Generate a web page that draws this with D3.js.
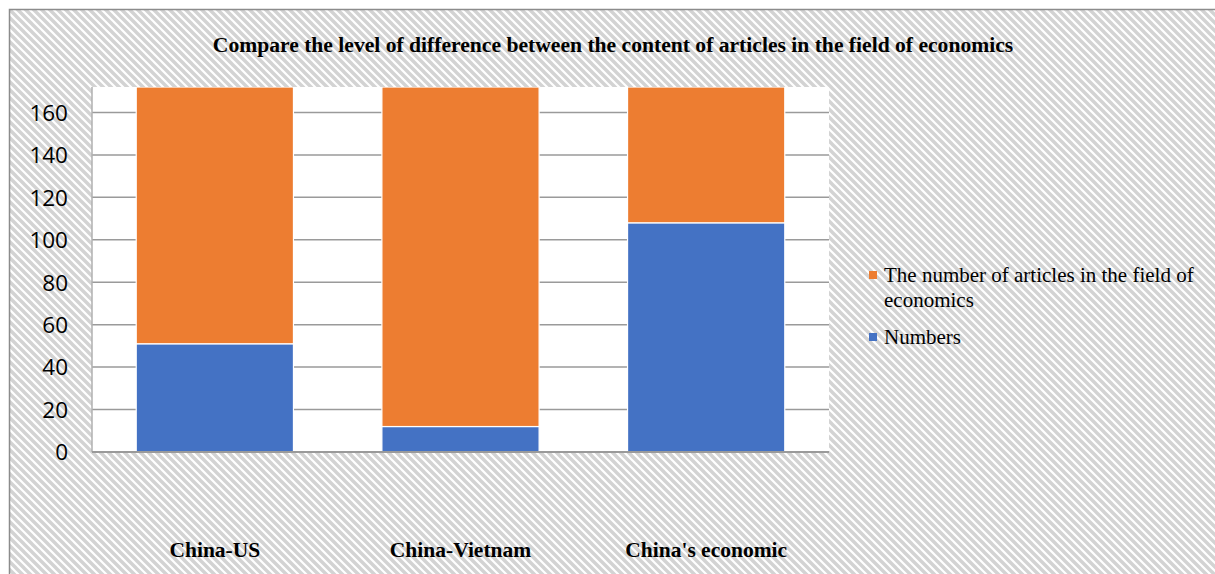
<!DOCTYPE html>
<html><head><meta charset="utf-8">
<script src="https://cdn.jsdelivr.net/npm/d3@7"></script>
<style>body{margin:0;background:#fff}svg{display:block}</style>
</head><body>
<svg id="c" width="1215" height="574"></svg>
<script>
const categories = ["China-US", "China-Vietnam", "China's economic"];
const numbers = [51, 12, 108];
const articles = [121, 160, 64];
const seriesNames = ["Numbers", "The number of articles in the field of economics"];
const yTicks = [0, 20, 40, 60, 80, 100, 120, 140, 160];
const yMax = 172;
const title = "Compare the level of difference between the content of articles in the field of economics";

const svg = d3.select("#c");
const defs = svg.append("defs");
const pat = defs.append("pattern").attr("id","hatch").attr("patternUnits","userSpaceOnUse")
  .attr("width",8).attr("height",8);
pat.append("rect").attr("width",8).attr("height",8).attr("fill","#fff");
pat.append("path").attr("d","M-2,-2 L10,10 M-2,6 L2,10 M6,-2 L10,2").attr("stroke","#d3d3d3").attr("stroke-width",3.4);

svg.append("rect").attr("x",9.5).attr("y",9.5).attr("width",1215).attr("height",600)
  .attr("fill","url(#hatch)").attr("stroke","#8c8c8c").attr("stroke-width",1.5);

const m = {left:92, top:87, right:829, bottom:452};
const x = d3.scaleBand().domain(categories).range([m.left, m.right]).paddingInner(0.36).paddingOuter(0.18);
const y = d3.scaleLinear().domain([0, yMax]).range([m.bottom, m.top]);

svg.append("rect").attr("x",m.left).attr("y",m.top).attr("width",m.right-m.left).attr("height",m.bottom-m.top).attr("fill","#fff");
defs.append("clipPath").attr("id","plot").append("rect").attr("x",m.left).attr("y",m.top).attr("width",m.right-m.left).attr("height",m.bottom-m.top);

// gridlines
svg.append("g").selectAll("line").data(yTicks.filter(d=>d>0)).join("line")
  .attr("x1",m.left).attr("x2",m.right).attr("y1",d=>y(d)).attr("y2",d=>y(d))
  .attr("stroke","#9a9a9a").attr("stroke-width",1.5);

const data = categories.map((c,i)=>({cat:c, Numbers:numbers[i], Articles:articles[i]}));
const stack = d3.stack().keys(["Numbers","Articles"])(data);
const colors = {Numbers:"#4472c4", Articles:"#ed7d31"};
svg.append("g").attr("clip-path","url(#plot)").selectAll("g").data(stack).join("g")
  .attr("fill",d=>colors[d.key])
  .selectAll("rect").data(d=>d).join("rect")
  .attr("x",d=>x(d.data.cat)).attr("width",x.bandwidth())
  .attr("y",d=>y(d[1])).attr("height",d=>y(d[0])-y(d[1]))
  .attr("stroke","#fff").attr("stroke-width",1.2);

// axes lines
svg.append("line").attr("x1",m.left).attr("x2",m.left).attr("y1",m.top).attr("y2",m.bottom).attr("stroke","#b0b0b0").attr("stroke-width",1.5);
svg.append("line").attr("x1",m.left).attr("x2",m.right).attr("y1",m.bottom).attr("y2",m.bottom).attr("stroke","#9a9a9a").attr("stroke-width",2);

const yAxis = d3.axisLeft(y).tickValues(yTicks).tickSize(0).tickPadding(0);
const ya = svg.append("g").attr("transform",`translate(68,0)`).call(yAxis);
ya.select(".domain").remove();
ya.selectAll("text").attr("font-family","'Open Sans', 'Liberation Sans', sans-serif").attr("font-size",22.5).attr("fill","#000").attr("dy","0.35em");

const xAxis = d3.axisBottom(x).tickSize(0).tickPadding(0);
const xa = svg.append("g").attr("transform",`translate(0,549)`).call(xAxis);
xa.select(".domain").remove();
xa.selectAll("text").attr("font-family","'Liberation Serif', serif").attr("font-weight","bold").attr("font-size",21.5).attr("fill","#000").attr("dy","0.35em");

svg.append("text").attr("x",613).attr("y",44).attr("dy","0.35em").attr("text-anchor","middle")
  .attr("font-family","'Liberation Serif', serif").attr("font-weight","bold").attr("font-size",21.6).attr("fill","#000").text(title);

// legend
const lg = svg.append("g").attr("font-family","'Liberation Serif', serif").attr("font-size",21).attr("fill","#000");
const legendItems = [
  {key:"Articles", lines:["The number of articles in the field of","economics"], y:275},
  {key:"Numbers", lines:[seriesNames[0]], y:337}
];
legendItems.forEach(it=>{
  lg.append("rect").attr("x",869).attr("y",it.y-4).attr("width",8).attr("height",8).attr("fill",colors[it.key]);
  const t = lg.append("text").attr("x",884).attr("y",it.y).attr("dy","0.35em");
  it.lines.forEach((l,i)=>t.append("tspan").attr("x",884).attr("dy",i===0?"0.35em":"1.15em").text(l));
});
</script>
</body></html>
